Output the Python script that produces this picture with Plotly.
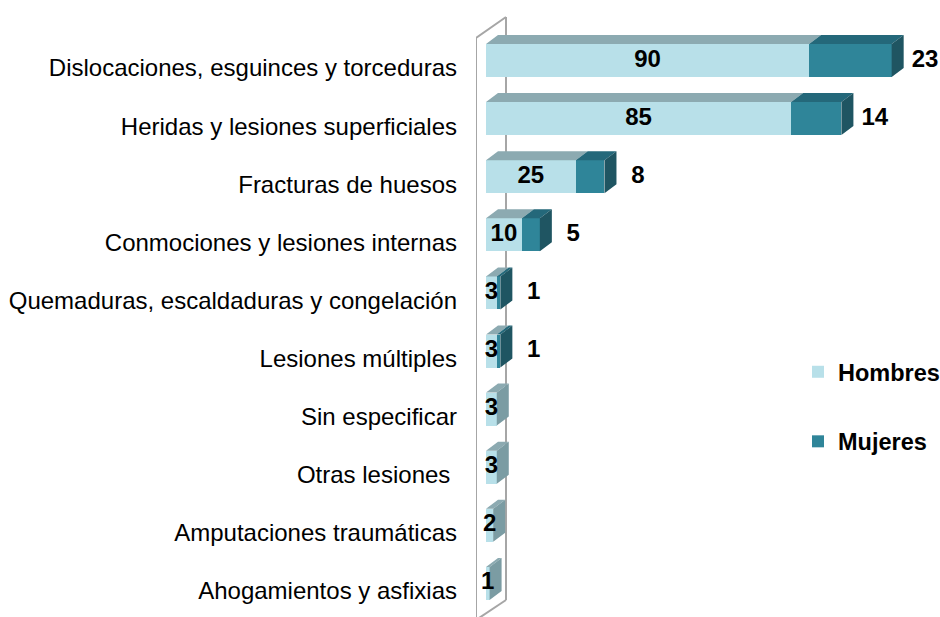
import plotly.graph_objects as go

# Data
categorias = [
    "Dislocaciones, esguinces y torceduras",
    "Heridas y lesiones superficiales",
    "Fracturas de huesos",
    "Conmociones y lesiones internas",
    "Quemaduras, escaldaduras y congelación",
    "Lesiones múltiples",
    "Sin especificar",
    "Otras lesiones\u00a0",
    "Amputaciones traumáticas",
    "Ahogamientos y asfixias",
]
hombres = [90, 85, 25, 10, 3, 3, 3, 3, 2, 1]
mujeres = [23, 14, 8, 5, 1, 1, 0, 0, 0, 0]

COLORS = {
    "h_front": "#B8E0E9",
    "h_top": "#8CAAB1",
    "h_side": "#7B9CA3",
    "m_front": "#2F8599",
    "m_top": "#24687A",
    "m_side": "#1F5562",
    "wall": "#A6A6A6",
}
FONT = "Liberation Sans, Arial, sans-serif"

W, H = 940, 617

# geometry (pixels -> axis units)
PX_X = 3.59          # px per value unit
PX_Y = 58.1          # px per category
LEFT = 476           # plot left edge in px
x0 = -10 / PX_X
x1 = x0 + (W - LEFT) / PX_X
y_top = -68 / PX_Y
y_bot = y_top + H / PX_Y


def vy(p):
    # pixel row -> y axis value
    return y_top + p / PX_Y


BAR_W = 33 / PX_Y
SHIFT = 7.5 / PX_Y    # bars sit a bit above the tick label
DX = 12 / PX_X        # depth offset of the 3D faces
DY = 9 / PX_Y

pos = list(range(len(categorias)))
yc = [p - SHIFT for p in pos]


def top_face(a, b, y):
    yt = y - BAR_W / 2
    return [a, b, b + DX, a + DX, a, None], [yt, yt, yt - DY, yt - DY, yt, None]


def side_face(b, y):
    yt = y - BAR_W / 2
    yb = y + BAR_W / 2
    return [b, b, b + DX, b + DX, b, None], [yt, yb, yb - DY, yt - DY, yt, None]


fig = go.Figure()

# back wall line (behind bars)
wall_back_x = x0 + 30 / PX_X
fig.add_shape(type="line", xref="x", yref="y", x0=wall_back_x, x1=wall_back_x,
              y0=vy(17), y1=vy(600),
              line=dict(color=COLORS["wall"], width=2), layer="below")

# front faces
fig.add_trace(go.Bar(
    y=yc, x=hombres, orientation="h", width=BAR_W, name="<b>Hombres</b>",
    marker=dict(color=COLORS["h_front"], line=dict(width=0)),
    legendgroup="h",
))
fig.add_trace(go.Bar(
    y=yc, x=mujeres, orientation="h", width=BAR_W, name="<b>Mujeres</b>",
    marker=dict(color=COLORS["m_front"], line=dict(width=0)),
    legendgroup="m",
))

# top and side faces
htx, hty, mtx, mty, hsx, hsy, msx, msy = [], [], [], [], [], [], [], []
for h, m, y in zip(hombres, mujeres, yc):
    px_, py_ = top_face(0, h, y)
    htx += px_; hty += py_
    if m > 0:
        px_, py_ = top_face(h, h + m, y)
        mtx += px_; mty += py_
        px_, py_ = side_face(h + m, y)
        msx += px_; msy += py_
    else:
        px_, py_ = side_face(h, y)
        hsx += px_; hsy += py_

for xs, ys, col in [(htx, hty, COLORS["h_top"]), (mtx, mty, COLORS["m_top"]),
                    (hsx, hsy, COLORS["h_side"]), (msx, msy, COLORS["m_side"])]:
    fig.add_trace(go.Scatter(
        x=xs, y=ys, mode="lines", fill="toself", fillcolor=col,
        line=dict(width=0, color=col), showlegend=False, hoverinfo="skip",
    ))

# value labels
fig.add_trace(go.Scatter(
    x=[h / 2 for h in hombres], y=yc, mode="text",
    text=[f"<b>{h}</b>" for h in hombres],
    textfont=dict(size=24, color="black", family=FONT),
    showlegend=False, hoverinfo="skip", cliponaxis=False,
))
mx = [h + m + 9.3 for h, m in zip(hombres, mujeres) if m > 0]
my = [y for m, y in zip(mujeres, yc) if m > 0]
fig.add_trace(go.Scatter(
    x=mx, y=my, mode="text",
    text=[f"<b>{m}</b>" for m in mujeres if m > 0],
    textfont=dict(size=24, color="black", family=FONT),
    showlegend=False, hoverinfo="skip", cliponaxis=False,
))

# front wall outline
fig.add_shape(type="path", xref="x", yref="y",
              path=f"M{x0},{vy(640)} L{x0},{vy(38)} L{wall_back_x},{vy(17)}",
              line=dict(color=COLORS["wall"], width=2))
fig.add_shape(type="line", xref="x", yref="y",
              x0=wall_back_x, y0=vy(600), x1=x0, y1=vy(620),
              line=dict(color=COLORS["wall"], width=2))

fig.update_layout(
    barmode="stack",
    width=W, height=H,
    margin=dict(l=LEFT, r=0, t=0, b=0, autoexpand=False),
    paper_bgcolor="white", plot_bgcolor="white",
    font=dict(family=FONT, size=24, color="black"),
    showlegend=True,
    legend=dict(
        x=(798 - LEFT) / (W - LEFT), y=(H - 350) / H,
        xanchor="left", yanchor="top",
        traceorder="grouped", tracegroupgap=36,
        font=dict(size=23.5, color="black"),
        bgcolor="rgba(0,0,0,0)",
    ),
    xaxis=dict(range=[x0, x1], visible=False, fixedrange=True),
    yaxis=dict(
        range=[y_bot, y_top], tickvals=pos, ticktext=categorias,
        showgrid=False, zeroline=False, showline=False, ticks="",
        ticklabelstandoff=18, automargin=False,
        tickfont=dict(size=24, color="black"),
    ),
)

# drop the default page margin so the figure fills the window exactly
fig.write_html(
    "out.html",
    config={"displayModeBar": False},
    post_script="document.body.style.margin='0';document.body.style.overflow='hidden';",
)
